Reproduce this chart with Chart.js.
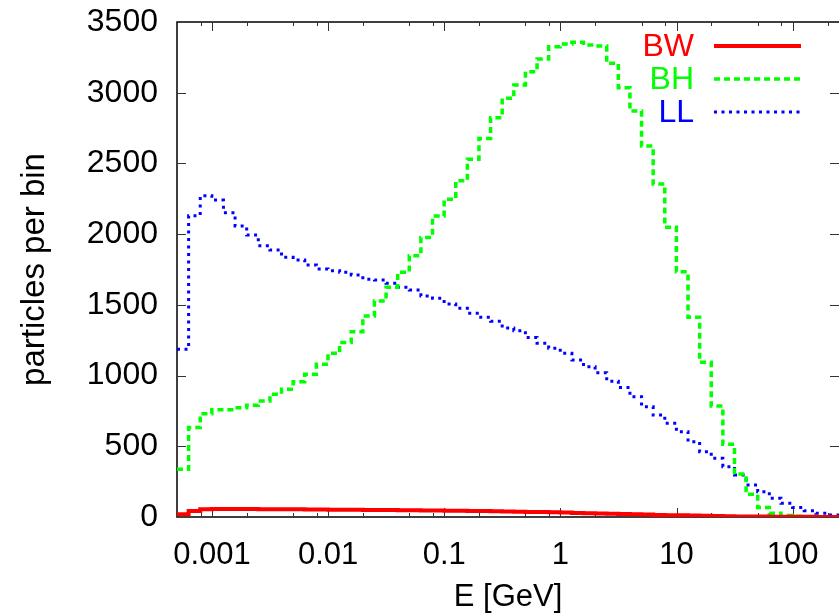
<!DOCTYPE html>
<html>
<head>
<meta charset="utf-8">
<script src="https://cdn.jsdelivr.net/npm/chart.js@4"></script>
<style>
  html, body { margin: 0; padding: 0; background: #fff; }
  canvas { display: block; }
</style>
</head>
<body>
<canvas id="spectrum" width="839" height="616"></canvas>
<script>
// histogram: 10 log bins per decade, first edge at 0.0005 GeV
const firstEdge = 0.0005;
const binsPerDecade = 10;

const bwCounts = [20, 42, 55, 57, 57, 56, 56, 55, 55, 54, 54, 53, 53, 52, 51, 51, 50, 49, 49, 48,
                  47, 46, 46, 45, 44, 43, 42, 41, 39, 38, 36, 35, 33, 31, 29, 27, 25, 23, 21, 19,
                  17, 15, 13, 12, 10, 8, 7, 5, 4, 3, 3, 2, 2, 1, 1, 0, 0];
const bhCounts = [337, 632, 730, 758, 758, 772, 791, 820, 868, 903, 957, 1009, 1080, 1157, 1233, 1310,
                  1421, 1527, 1624, 1730, 1848, 1977, 2128, 2246, 2378, 2529, 2677, 2823, 2960, 3055,
                  3149, 3238, 3325, 3344, 3356, 3337, 3330, 3208, 3035, 2871, 2623, 2354, 2048, 1734,
                  1412, 1094, 785, 514, 304, 160, 68, 26, 10, 5, 2, 1, 0];
const llCounts = [1186, 2130, 2272, 2241, 2152, 2058, 1994, 1918, 1888, 1836, 1817, 1782, 1754, 1742,
                  1730, 1711, 1681, 1676, 1652, 1625, 1605, 1563, 1546, 1506, 1476, 1440, 1412, 1384,
                  1337, 1317, 1270, 1228, 1193, 1157, 1110, 1063, 1020, 960, 915, 851, 780, 721, 662,
                  603, 532, 462, 415, 356, 297, 226, 179, 132, 97, 68, 45, 26, 14];

const xTickValues = [0.001, 0.01, 0.1, 1, 10, 100];
const xTickLabels = ['0.001', '0.01', '0.1', '1', '10', '100'];
const xMinorFactors = [2, 5, 8];
const yTickLabels = ['0', '500', '1000', '1500', '2000', '2500', '3000', '3500'];

const nBins = bhCounts.length;
const binEdges = Array.from({ length: nBins + 1 }, (_, i) => firstEdge * Math.pow(10, i / binsPerDecade));

// points on left bin edges, plus closing point on the last right edge
function toSteps(counts) {
    return binEdges.map((e, i) => ({ x: e, y: counts[Math.min(i, counts.length - 1)] }));
}

const FONT = "'Liberation Sans', Arial, Helvetica, sans-serif";
Chart.defaults.font.family = FONT;
Chart.defaults.font.size = 31;
Chart.defaults.color = '#000';

// gnuplot style border with inward tick marks on all four sides
const framePlugin = {
    id: 'frame',
    beforeDatasetsDraw(chart) {
        const { ctx, chartArea: a, scales: { x, y } } = chart;
        ctx.save();
        ctx.strokeStyle = '#000';
        ctx.lineWidth = 1.5;
        ctx.beginPath();
        ctx.moveTo(a.right, a.top);
        ctx.lineTo(a.left, a.top);
        ctx.lineTo(a.left, a.bottom);
        ctx.lineTo(a.right, a.bottom);
        ctx.stroke();

        ctx.lineWidth = 1;
        ctx.strokeStyle = '#333';
        ctx.beginPath();
        const tickX = (v, len) => {
            const px = Math.round(x.getPixelForValue(v)) + 0.5;
            if (px < a.left + 1 || px > a.right) return;
            ctx.moveTo(px, a.bottom); ctx.lineTo(px, a.bottom - len);
            ctx.moveTo(px, a.top); ctx.lineTo(px, a.top + len);
        };
        xTickValues.forEach(v => tickX(v, 9));
        [0.0001].concat(xTickValues).forEach(d => xMinorFactors.forEach(f => tickX(d * f, 4)));
        y.ticks.forEach(t => {
            const py = Math.round(y.getPixelForValue(t.value)) + 0.5;
            if (py <= a.top + 1 || py >= a.bottom - 1) return;
            ctx.moveTo(a.left, py); ctx.lineTo(a.left + 9, py);
            ctx.moveTo(a.right, py); ctx.lineTo(a.right - 9, py);
        });
        ctx.stroke();
        ctx.restore();
    },
    afterDatasetsDraw(chart) {
        // key: right-aligned label, sample line to its right
        const { ctx } = chart;
        ctx.save();
        ctx.font = '32px ' + FONT;
        ctx.textAlign = 'right';
        ctx.textBaseline = 'middle';
        chart.data.datasets.forEach((ds, i) => {
            const yy = 46 + i * 33;
            ctx.fillStyle = ds.borderColor;
            ctx.fillText(ds.label, 694, yy + 1);
            ctx.strokeStyle = ds.borderColor;
            ctx.lineWidth = ds.borderWidth;
            ctx.setLineDash(ds.borderDash || []);
            ctx.beginPath();
            ctx.moveTo(714, yy);
            ctx.lineTo(801, yy);
            ctx.stroke();
        });
        ctx.restore();
    }
};

new Chart(document.getElementById('spectrum'), {
    type: 'line',
    data: {
        datasets: [
            { label: 'BW', data: toSteps(bwCounts), borderColor: '#ff0000', borderWidth: 4 },
            { label: 'BH', data: toSteps(bhCounts), borderColor: '#00ff00', borderWidth: 3.5, borderDash: [6, 4] },
            { label: 'LL', data: toSteps(llCounts), borderColor: '#0000ff', borderWidth: 3, borderDash: [3, 4.5] }
        ]
    },
    options: {
        responsive: false,
        animation: false,
        elements: {
            point: { radius: 0 },
            line: { tension: 0, stepped: true, fill: false }
        },
        layout: { padding: { top: 22, right: 0, bottom: 0, left: 0 } },
        plugins: {
            legend: { display: false },
            tooltip: { enabled: false }
        },
        scales: {
            x: {
                type: 'logarithmic',
                min: firstEdge,
                max: binEdges[nBins],
                bounds: 'data',
                border: { display: false },
                grid: { display: false, drawTicks: false },
                afterBuildTicks: (scale) => { scale.ticks = xTickValues.map(v => ({ value: v })); },
                ticks: {
                    autoSkip: false,
                    maxRotation: 0,
                    padding: 20,
                    callback: (v, i) => xTickLabels[i]
                },
                title: { display: true, text: 'E [GeV]', font: { size: 31 }, padding: { top: 0, bottom: 0 } },
                afterFit: (scale) => {
                    scale.height = 99;
                    scale.paddingLeft = 0;
                    scale.paddingRight = 0;
                }
            },
            y: {
                min: 0,
                max: 3500,
                border: { display: false },
                grid: { display: false, drawTicks: false },
                ticks: {
                    stepSize: 500,
                    padding: 19,
                    font: { size: 32 },
                    callback: (v, i) => yTickLabels[i]
                },
                title: { display: true, text: 'particles per bin', font: { size: 33 }, padding: { top: 15, bottom: 0 } },
                afterFit: (scale) => {
                    scale.width = 177;
                    scale.paddingTop = 0;
                    scale.paddingBottom = 0;
                }
            }
        }
    },
    plugins: [framePlugin]
});
</script>
</body>
</html>
